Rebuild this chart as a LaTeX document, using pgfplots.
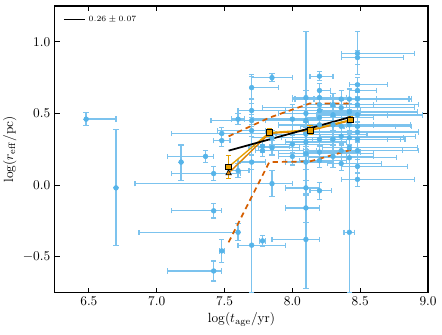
\documentclass[border=0pt]{standalone}
\usepackage{pgfplots}
\pgfplotsset{compat=1.18}
\usepackage{pgfplotstable}

\definecolor{skyb}{HTML}{56B4E9}
\definecolor{skyerr}{HTML}{7CC3EE}
\definecolor{ora}{HTML}{E69F00}
\definecolor{verm}{HTML}{D55E00}
\definecolor{tri}{HTML}{DC7F00}

% x y and asymmetric errors
\pgfplotstableread{
x y xm xp ym yp
6.48 0.46 0.00 0.22 0.045 0.045
6.70 -0.02 0.00 0.00 0.40 0.41
7.18 0.16 0.00 0.00 0.13 0.12
7.36 0.20 0.28 0.06 0.04 0.04
7.42 0.08 0.31 0.20 0.05 0.05
7.48 0.36 0.37 0.40 0.04 0.04
7.48 0.31 0.06 0.06 0.04 0.04
7.42 -0.18 0.31 0.06 0.05 0.05
7.42 -0.60 0.34 0.06 0.07 0.07
7.48 -0.46 0.02 0.02 0.08 0.08
7.60 -0.33 0.73 0.00 0.06 0.06
7.70 -0.42 0.10 0.25 0.33 1.19
7.78 -0.39 0.02 0.02 0.04 0.04
7.85 0.01 1.01 0.15 0.09 0.09
7.60 0.10 0.08 0.08 0.05 0.05
7.60 0.46 0.05 0.05 0.04 0.04
8.10 -0.38 0.25 0.10 0.34 1.45
8.10 -0.16 0.15 0.10 0.10 0.10
8.10 -0.02 0.15 0.10 0.05 0.05
8.20 -0.04 0.07 0.09 0.06 0.06
8.42 -0.33 0.04 0.04 0.42 0.80
8.48 0.04 0.12 0.42 0.05 0.05
8.48 0.13 0.12 0.37 0.05 0.05
7.85 0.75 0.15 0.15 0.03 0.03
7.70 0.68 0.00 0.20 0.08 0.08
7.70 0.52 0.10 0.40 0.05 0.05
8.20 0.76 0.07 0.10 0.03 0.03
8.48 0.92 0.12 0.42 0.15 0.15
8.48 0.89 0.12 0.34 0.05 0.05
8.48 0.70 0.06 0.22 0.05 0.05
8.48 0.66 0.06 0.14 0.05 0.05
8.20 0.66 0.00 0.08 0.05 0.05
8.20 0.61 0.00 0.08 0.05 0.05
7.70 0.45 0.30 0.10 0.04 0.04
7.70 0.38 0.25 0.10 0.04 0.04
7.70 0.16 0.10 0.10 0.05 0.05
7.78 0.24 0.05 0.30 0.04 0.04
7.78 0.27 0.10 0.20 0.04 0.04
7.85 0.33 0.15 0.25 0.05 0.05
7.85 0.26 0.10 0.20 0.05 0.05
8.00 0.46 0.30 0.20 0.10 0.10
8.00 0.285 0.15 0.30 0.06 0.06
8.00 0.20 0.10 0.40 0.06 0.06
8.10 0.61 0.10 0.30 0.05 0.05
8.10 0.50 0.20 0.40 0.06 0.06
8.10 0.45 0.30 0.20 0.05 0.05
8.10 0.355 0.25 0.45 0.05 0.05
8.10 0.30 0.15 0.30 0.05 0.05
8.10 0.22 0.20 0.50 0.05 0.05
8.10 0.16 0.15 0.20 0.05 0.05
8.20 0.56 0.10 0.20 0.05 0.05
8.20 0.52 0.25 0.30 0.05 0.05
8.20 0.47 0.10 0.40 0.06 0.06
8.20 0.42 0.30 0.20 0.05 0.05
8.20 0.32 0.20 0.50 0.05 0.05
8.20 0.23 0.10 0.30 0.05 0.05
8.20 0.17 0.15 0.20 0.05 0.05
8.30 0.56 0.20 0.30 0.08 0.08
8.30 0.49 0.10 0.40 0.06 0.06
8.30 0.42 0.30 0.30 0.05 0.05
8.30 0.32 0.15 0.50 0.06 0.06
8.30 0.20 0.20 0.30 0.08 0.08
8.36 0.60 0.20 0.50 0.06 0.06
8.36 0.54 0.58 0.54 0.05 0.05
8.36 0.41 0.30 0.40 0.08 0.08
8.36 0.34 0.15 0.55 0.06 0.06
8.36 0.24 0.25 0.45 0.05 0.05
8.36 0.15 0.10 0.30 0.05 0.05
8.42 0.60 0.40 0.20 0.07 0.07
8.42 0.51 0.20 0.50 0.06 0.06
8.42 0.42 0.30 0.45 0.06 0.06
8.42 0.33 0.50 0.40 0.05 0.05
8.42 0.26 0.20 0.50 0.06 0.06
8.42 0.19 0.30 0.35 0.06 0.06
8.48 0.60 0.48 0.40 0.05 0.05
8.48 0.56 0.20 0.45 0.06 0.06
8.48 0.49 0.30 0.48 0.05 0.05
8.48 0.41 0.10 0.40 0.06 0.06
8.48 0.37 0.40 0.45 0.05 0.05
8.48 0.32 0.20 0.35 0.08 0.08
8.48 0.24 0.30 0.45 0.06 0.06
}\pts

\begin{document}
\begin{tikzpicture}
\begin{axis}[
    scale only axis,
    width=280pt, height=215pt,
    xmin=6.25, xmax=9.0,
    ymin=-0.75, ymax=1.25,
    xtick={6.5,7.0,7.5,8.0,8.5,9.0},
    ytick={-0.5,0.0,0.5,1.0},
    xticklabel style={/pgf/number format/.cd, fixed, fixed zerofill, precision=1},
    yticklabel style={/pgf/number format/.cd, fixed, fixed zerofill, precision=1},
    tick align=inside,
    tick pos=both,
    major tick length=3.5pt,
    minor tick num=0,
    axis line style={line width=0.8pt},
    every tick/.style={black, line width=0.6pt},
    xlabel={$\log(t_{\rm age}/{\rm yr})$},
    ylabel={$\log(r_{\rm eff}/{\rm pc})$},
    xlabel style={yshift=2pt},
    ylabel style={yshift=-2pt},
    legend style={draw=none, fill=none, at={(0.01,0.985)}, anchor=north west,
        font=\fontsize{6.5}{7.5}\selectfont},
    legend cell align=left,
    legend image code/.code={\draw[black, line width=1.3pt] (0pt,0pt) -- (16pt,0pt);},
]
% data points
\addplot[only marks, mark=*, mark size=1.8pt, color=skyb,
    mark options={fill=skyb, draw=skyb},
    error bars/.cd, x dir=both, x explicit, y dir=both, y explicit,
    error bar style={line width=1pt, color=skyerr},
    error mark options={rotate=90, mark size=2pt, line width=0.9pt, color=skyerr}]
  table[x=x, y=y, x error plus=xp, x error minus=xm, y error plus=yp, y error minus=ym] {\pts};
\addplot[forget plot, verm, dashed, dash pattern=on 4pt off 3pt, line width=1.3pt]
  coordinates {(7.53,0.34) (7.83,0.47) (8.13,0.57) (8.43,0.57)};
\addplot[forget plot, verm, dashed, dash pattern=on 4pt off 3pt, line width=1.3pt]
  coordinates {(7.53,-0.40) (7.83,0.16) (8.13,0.165) (8.43,0.245)};
\addplot[forget plot, color=tri, line width=1pt, mark=triangle*, mark size=2.4pt,
    mark options={fill=tri, draw=black, line width=0.4pt}]
  coordinates {(7.53,0.083) (7.83,0.36) (8.13,0.38) (8.43,0.45)};
\addplot[forget plot, color=ora, line width=1pt, mark=square*, mark size=2.2pt,
    mark options={fill=ora, draw=black, line width=0.4pt},
    error bars/.cd, y dir=both, y explicit,
    error bar style={color=ora, line width=0.9pt},
    error mark options={rotate=90, mark size=2pt, line width=0.9pt, color=ora}]
  coordinates {(7.53,0.127) +- (0,0.08) (7.83,0.366) +- (0,0.03) (8.13,0.385) +- (0,0.03) (8.43,0.456) +- (0,0.02)};
\addplot[black, line width=1.3pt] coordinates {(7.53,0.24) (8.43,0.475)};
\addlegendentry{$0.26 \pm 0.07$}
\end{axis}
\pgfresetboundingbox
\path (current axis.south west) +(-41.25pt,-31.5pt) (current axis.north east) +(10.5pt,4.5pt);
\end{tikzpicture}
\end{document}
